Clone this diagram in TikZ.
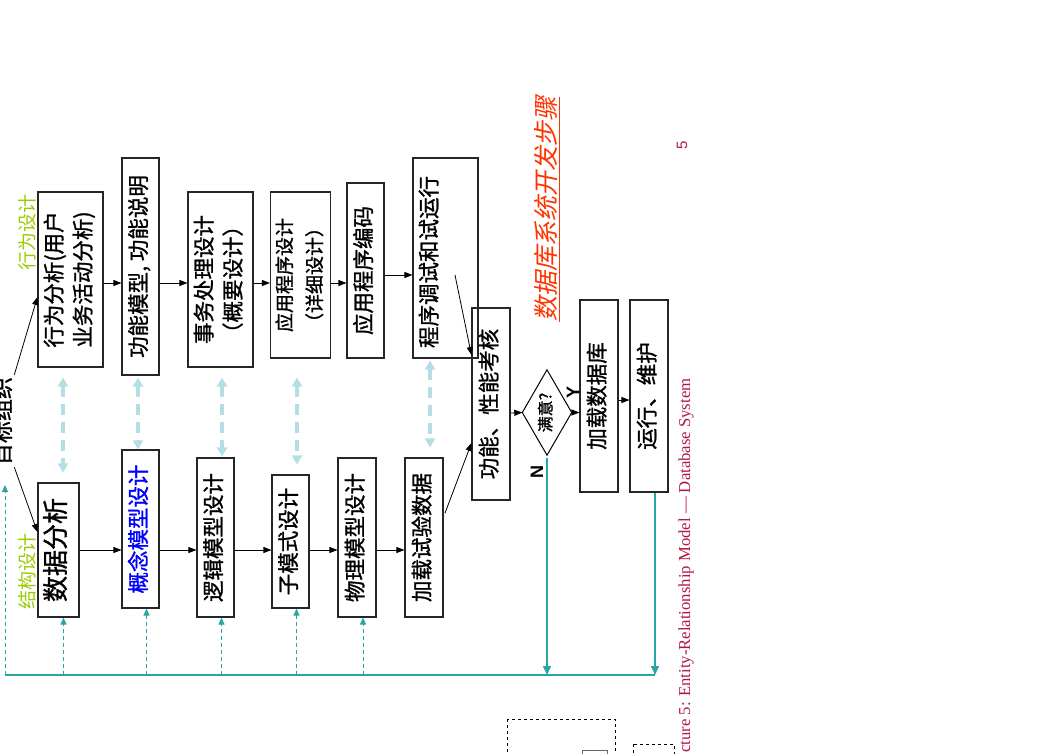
\documentclass[tikz,border=0pt]{standalone}
\usepackage{fontspec}
\usetikzlibrary{arrows.meta,calc}
\newfontfamily\cjk{Noto Sans CJK SC}[FakeBold=1.2]
\newfontfamily\cjkl{Noto Sans CJK SC}
\newfontfamily\cjkit{Noto Sans CJK SC}[FakeSlant=0.2]
\newfontfamily\lsans{Liberation Sans}
\newfontfamily\lserif{Liberation Serif}
\newcommand\vtxt[1]{\rotatebox{90}{\begin{tabular}{@{}c@{}}#1\end{tabular}}}
\definecolor{tealc}{RGB}{40,165,165}
\definecolor{lblue}{RGB}{178,222,228}
\definecolor{crims}{RGB}{176,24,64}
\definecolor{titred}{RGB}{255,51,0}
\definecolor{lgreen}{RGB}{153,204,0}
\begin{document}
\begin{tikzpicture}[x=1pt,y=-1pt,
  box/.style={draw=black!85,line width=1.1pt,inner sep=0pt,
    font=\cjk\fontsize{21.5}{29}\selectfont},
  arr/.style={-{Triangle[length=8pt,width=6pt]},line width=0.8pt},
  lbarr/.style={{Triangle[length=9pt,width=10pt]}-{Triangle[length=9pt,width=10pt]},
    draw=lblue,line width=3.5pt,dash pattern=on 11pt off 7pt},
  tdash/.style={-{Triangle[length=7pt,width=6pt]},draw=tealc,line width=0.9pt,
    dash pattern=on 4pt off 3pt},
  tsolid/.style={draw=tealc,line width=1.6pt},
  tarr/.style={tsolid,-{Triangle[length=9pt,width=8pt]}},
  grn/.style={text=lgreen,font=\cjkl\fontsize{19}{19}\selectfont,rotate=90},
  yn/.style={font=\lsans\bfseries\fontsize{18}{18}\selectfont,rotate=90,inner sep=0pt}
]
\useasboundingbox (0,0) rectangle (1053,753);

% upper row (behaviour)
\node[box,minimum width=65pt,minimum height=175pt] (beh) at (70.5,279.5) {\vtxt{行为分析(用户\\业务活动分析)}};
\node[box,minimum width=37pt,minimum height=217pt] (fun) at (140.5,266.5) {\vtxt{功能模型, 功能说明}};
\node[box,minimum width=65pt,minimum height=175pt] (trn) at (220.5,279.5) {\vtxt{事务处理设计\\（概要设计）}};
\node[box,minimum width=57pt,minimum height=166pt,font=\cjk\fontsize{19}{30}\selectfont] (app) at (300.5,275) {\vtxt{应用程序设计\\（详细设计）}};
\node[box,minimum width=37pt,minimum height=175pt] (cod) at (365.5,270.5) {\vtxt{应用程序编码}};
\node[box,minimum width=65pt,minimum height=200pt] (dbg) at (445.5,258) {};
\node[font=\cjk\fontsize{21.5}{29}\selectfont,inner sep=0pt] (dbgt) at (431,262) {\vtxt{程序调试和试运行}};

% lower row (structure)
\node[box,minimum width=41pt,minimum height=134pt,font=\cjk\fontsize{26}{30}\selectfont] (dat) at (58.5,550) {\vtxt{数据分析}};
\node[box,minimum width=37pt,minimum height=158pt,text=blue] (con) at (140.5,529) {\vtxt{概念模型设计}};
\node[box,minimum width=37pt,minimum height=159pt] (log) at (215.5,537.5) {\vtxt{逻辑模型设计}};
\node[box,minimum width=37pt,minimum height=133pt] (sub) at (290.5,541.5) {\vtxt{子模式设计}};
\node[box,minimum width=38pt,minimum height=159pt] (phy) at (357,537.5) {\vtxt{物理模型设计}};
\node[box,minimum width=38pt,minimum height=159pt] (lod) at (424,537.5) {\vtxt{加载试验数据}};

% right part
\node[box,minimum width=38pt,minimum height=192pt] (chk) at (491,404) {\vtxt{功能、性能考核}};
\node[inner sep=0pt,minimum width=49pt,minimum height=85pt,font=\cjk\fontsize{16}{16}\selectfont] (dia) at (547,412.5) {\vtxt{满意?}};
\draw[black,line width=1pt] (dia.north) -- (dia.east) -- (dia.south) -- (dia.west) -- cycle;
\node[box,minimum width=38pt,minimum height=192pt] (ldb) at (599,396) {\vtxt{加载数据库}};
\node[box,minimum width=38pt,minimum height=192pt] (run) at (649,396) {\vtxt{运行、维护}};

% labels
\node[font=\cjk\fontsize{22}{22}\selectfont,rotate=90,inner sep=2pt] (goal) at (2,421) {目标组织};
\node[grn] (lbeh) at (27,232) {行为设计};
\node[grn] (lstr) at (27,571) {结构设计};
\node[yn] (ylab) at (573,392) {Y};
\node[yn] (nlab) at (537,472) {N};
\node[rotate=90,text=titred,font=\cjkit\fontsize{25}{25}\selectfont] (title) at (547,209) {\underline{数据库系统开发步骤}};
\node[rotate=90,text=crims,font=\lsans\fontsize{15}{15}\selectfont] (pnum) at (682,145) {5};
\node[rotate=90,anchor=base west,inner sep=0pt,text=crims,font=\lserif\fontsize{16.7}{17}\selectfont] (foot) at (690,753) {cture 5: Entity-Relationship Model — Database System};

% goal arrows
\draw[arr] (goal.south east) -- (beh.west |- 0,297);
\draw[arr] (goal.south west) -- (dat.west |- 0,532);

% upper row arrows
\draw[arr] (beh.east |- 0,283) -- (fun.west |- 0,283);
\draw[arr] (fun.east |- 0,283) -- (trn.west |- 0,283);
\draw[arr] (trn.east |- 0,283) -- (app.west |- 0,283);
\draw[arr] (app.east |- 0,283) -- (cod.west |- 0,283);
\draw[arr] (cod.east |- 0,275) -- (dbg.west |- 0,275);

% lower row arrows
\draw[arr] (dat.east |- 0,550) -- (con.west |- 0,550);
\draw[arr] (con.east |- 0,550) -- (log.west |- 0,550);
\draw[arr] (log.east |- 0,550) -- (sub.west |- 0,550);
\draw[arr] (sub.east |- 0,550) -- (phy.west |- 0,550);
\draw[arr] (phy.east |- 0,550) -- (lod.west |- 0,550);

% into check
\coordinate (dbgs) at (455,275);
\draw[arr] (dbgs) -- (chk.west |- 0,355);
\draw[arr,shorten <=4pt] (lod.east |- 0,517) -- (chk.west |- 0,443);
\draw[arr] (chk.east |- 0,413) -- (dia.west);
\draw[arr] (dia.east) -- (ldb.west |- dia.east);
\draw[arr] (ldb.east |- 0,400) -- (run.west |- 0,400);

% light blue double arrows
\draw[lbarr,shorten <=10pt,shorten >=10pt] (beh.south -| 63,0) -- (dat.north -| 63,0);
\draw[lbarr,shorten <=2pt,shorten >=0pt] (fun.south -| 138,0) -- (con.north -| 138,0);
\draw[lbarr,shorten <=10pt,shorten >=1pt] (trn.south -| 222,0) -- (log.north -| 222,0);
\draw[lbarr,shorten <=19pt,shorten >=10pt] (app.south -| 297,0) -- (sub.north -| 297,0);
\draw[lbarr,shorten <=2pt,shorten >=10pt] (dbg.south -| 430,0) -- (lod.north -| 430,0);

% teal feedback
\coordinate (bl) at (5,675);
\coordinate (br) at (655,675);
\coordinate (tl) at (5,485);
\draw[tsolid] (bl) -- (br);
\draw[tarr,shorten <=3pt] (dia.south) -- (dia.south |- bl);
\draw[tarr] (run.south -| br) -- (br);
\draw[tdash] (bl) -- (tl);
\draw[tdash] ([xshift=5pt]dat.south |- bl) -- ([xshift=5pt]dat.south);
\draw[tdash] ([xshift=6pt]con.south |- bl) -- ([xshift=6pt]con.south);
\draw[tdash] ([xshift=6pt]log.south |- bl) -- ([xshift=6pt]log.south);
\draw[tdash] ([xshift=6pt]sub.south |- bl) -- ([xshift=6pt]sub.south);
\draw[tdash] ([xshift=6pt]phy.south |- bl) -- ([xshift=6pt]phy.south);

% clipped boxes at the bottom
\draw[dashed,line width=0.9pt] (507,719) rectangle (615,780);
\draw[black!60,line width=1pt] (582,750) rectangle (607,780);
\draw[dashed,line width=0.9pt] (633,744) rectangle (674,780);
\end{tikzpicture}
\end{document}
